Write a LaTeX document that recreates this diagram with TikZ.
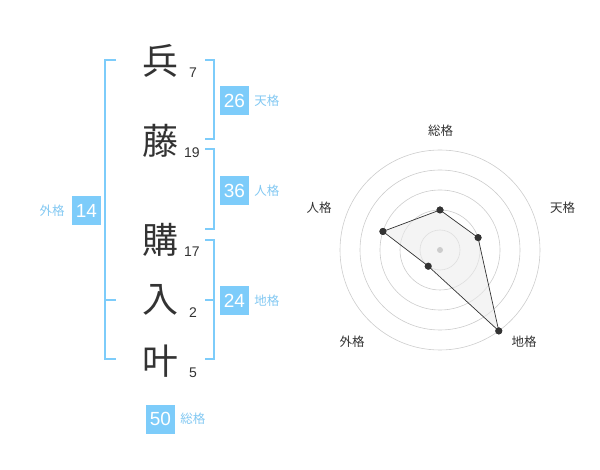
\documentclass[tikz,border=0pt]{standalone}
\usepackage{fontspec}
\setmainfont{Liberation Sans}
\newfontfamily\jpfont{Noto Sans CJK JP}
\definecolor{nmblue}{RGB}{125,204,250}
\definecolor{nmlabel}{RGB}{130,200,242}
\definecolor{nmdark}{RGB}{51,51,51}
\definecolor{nmgrid}{RGB}{204,204,204}
\definecolor{nmfill}{RGB}{236,236,236}
\usetikzlibrary{positioning,calc}

\begin{document}
\begin{tikzpicture}[x=1pt,y=-1pt,
  kanji/.style={font=\jpfont\fontsize{36}{36}\selectfont,text=nmdark,inner sep=0pt},
  strokes/.style={font=\fontsize{14}{14}\selectfont,text=nmdark,inner sep=0pt},
  scorebox/.style={fill=nmblue,text=white,minimum size=29pt,inner sep=0pt,
    font=\fontsize{19}{19}\selectfont},
  kakulabel/.style={text=nmlabel,inner sep=0pt,font=\jpfont\fontsize{12.5}{12.5}\selectfont},
  bracket/.style={draw=nmblue,line width=2pt},
  axislabel/.style={text=nmdark,inner sep=0pt,font=\jpfont\fontsize{12.5}{12.5}\selectfont},
  radardot/.style={circle,fill=nmdark,inner sep=0pt,minimum size=7pt}
]
  \useasboundingbox (0,0) rectangle (600,470);
  % Name characters and stroke counts
  \node[kanji] (ch1) at (160,61) {兵};
  \node[kanji] (ch2) at (160,141) {藤};
  \node[kanji] (ch3) at (160,240) {購};
  \node[kanji] (ch4) at (160,300) {入};
  \node[kanji] (ch5) at (160,361) {叶};
  \node[strokes] (st1) at (193,73) {7};
  \node[strokes] (st2) at (192,153) {19};
  \node[strokes] (st3) at (192,252) {17};
  \node[strokes] (st4) at (193,313) {2};
  \node[strokes] (st5) at (193,373) {5};
  % Brackets
  \draw[bracket] (116,60) -- (105,60) -- (105,359) -- (116,359);
  \draw[bracket] (105,300) -- (116,300);
  \draw[bracket] (205,60) -- (214,60) -- (214,139) -- (205,139);
  \draw[bracket] (205,149) -- (214,149) -- (214,229) -- (205,229);
  \draw[bracket] (205,240) -- (214,240) -- (214,359) -- (205,359);
  \draw[bracket] (205,300) -- (214,300);
  % Scores
  \node[scorebox] (ten) at (234.5,100.5) {26};
  \node[kakulabel,right=5pt of ten] (tenlbl) {天格};
  \node[scorebox] (jin) at (234.5,190.5) {36};
  \node[kakulabel,right=5pt of jin] (jinlbl) {人格};
  \node[scorebox] (chi) at (234.5,300.5) {24};
  \node[kakulabel,right=5pt of chi] (chilbl) {地格};
  \node[scorebox] (gai) at (86.5,210.5) {14};
  \node[kakulabel,left=7pt of gai] (gailbl) {外格};
  \node[scorebox] (sou) at (160.5,419) {50};
  \node[kakulabel,right=5pt of sou] (soulbl) {総格};
  % Radar chart
  \coordinate (rc) at (440,250);
  \foreach \r in {20,40,60,80,100}
    \draw[nmgrid,line width=0.6pt] (rc) circle[radius=\r pt];
  \node[radardot] (psou) at ($(rc)+(90:40pt)$) {};
  \node[radardot] (pten) at ($(rc)+(18:40pt)$) {};
  \node[radardot] (pchi) at ($(rc)+(-54:100pt)$) {};
  \node[radardot] (pgai) at ($(rc)+(-126:20pt)$) {};
  \node[radardot] (pjin) at ($(rc)+(162:60pt)$) {};
  \filldraw[fill=nmfill,fill opacity=0.6,draw=nmdark,line width=0.7pt]
    (psou.center) -- (pten.center) -- (pchi.center) -- (pgai.center)
    -- (pjin.center) -- cycle;
  \fill[nmgrid] (rc) circle[radius=3pt];
  \foreach \p in {psou,pten,pchi,pgai,pjin}
    \fill[nmdark] (\p) circle[radius=3.5pt];
  \node[axislabel] (asou) at (440.5,130.5) {総格};
  \node[axislabel] (aten) at (562.5,208) {天格};
  \node[axislabel] (ajin) at (319,208) {人格};
  \node[axislabel] (agai) at (352,342) {外格};
  \node[axislabel] (achi) at (524,342) {地格};
\end{tikzpicture}
\end{document}
